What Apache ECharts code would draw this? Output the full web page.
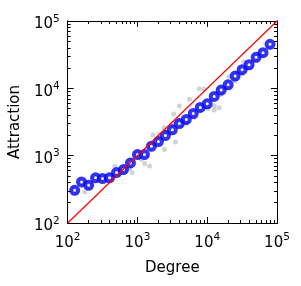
<!DOCTYPE html>
<html>
<head>
<meta charset="utf-8">
<script src="https://cdn.jsdelivr.net/npm/echarts@6/dist/echarts.min.js"></script>
<style>
html,body{margin:0;padding:0;background:#fff;}
#c{width:301px;height:286px;}
</style>
</head>
<body>
<div id="c"></div>
<script>
// Binned averages (blue circles)
const blueX = [126,158,200,251,316,398,501,631,794,1000,1259,1585,1995,2512,3162,3981,5012,6310,7943,10000,12589,15849,19953,25119,31623,39811,50119,63096,79433];
const blueY = [306,407,363,468,457,468,561,621,781,1040,1040,1380,1620,1990,2420,3000,3450,4230,5200,5890,7590,9420,11300,15200,18900,22400,28900,33800,45000];

// Individual points (gray)
const grayX = [120,135,128,176,150,165,195,210,245,260,305,330,390,410,420,475,520,490,610,650,660,776,839,820,980,1020,1050,1138,1268,1496,1200,1300,1670,1550,1620,1950,2050,2000,2440,2400,2550,3100,3310,3500,3200,3900,3980,4100,3800,5550,5000,4900,5200,6100,6500,6300,7700,9000,8000,7600,9800,10300,12600,12600,14800,12000,16000,15500,20500,19500,20000,25000,24500,26000,33500,31000,32000,40000,38000,41000,50000,51000,63000,65000,79000,78000];
const grayY = [330,290,300,289,420,380,340,370,480,450,450,470,480,450,500,697,540,580,640,590,600,646,562,800,1100,980,1000,877,766,705,1100,1000,2020,1300,1450,1800,2100,1700,1236,2600,2300,2800,4140,1600,3000,3200,5450,2800,3300,6860,3000,3300,3200,4000,3700,4500,9900,9800,4800,4600,5500,5000,4750,5450,5140,7000,8500,8000,14900,10500,11000,13000,14000,16000,24800,17000,16500,21000,20000,24000,26000,28000,32000,34000,43000,41000];

// Reference line y = x
const diagX = [100, 100000];
const diagY = [100, 100000];

// Tick values
const majorTicks = [100, 1000, 10000, 100000];
const minorTicks = [200,300,400,500,600,700,800,900,2000,3000,4000,5000,6000,7000,8000,9000,20000,30000,40000,50000,60000,70000,80000,90000];

const FONT = 'DejaVu Sans';
const richX = {
  b: {fontSize: 15, fontFamily: FONT, color: '#000', lineHeight: 22},
  s: {fontSize: 10.5, fontFamily: FONT, color: '#000', lineHeight: 10, verticalAlign: 'top'}
};
function fmt(v) { return '{b|10}{s|' + Math.round(Math.log10(v)) + '}'; }

function axisBase(pos, ticks, len, showLabel, isX) {
  const a = {
    type: 'log', logBase: 10, min: 100, max: 100000, position: pos,
    splitLine: {show: false},
    axisLine: {show: true, lineStyle: {color: '#000', width: 1}},
    axisTick: {show: true, inside: true, length: len, customValues: ticks, lineStyle: {color: '#000', width: 1}},
    axisLabel: {show: false},
    minorTick: {show: false}
  };
  if (showLabel) {
    a.axisLabel = {
      show: true, customValues: majorTicks, formatter: fmt, rich: richX,
      margin: isX ? 9 : 8, padding: isX ? 0 : [7, 0, 0, 0]
    };
  }
  return a;
}

const xAxes = [
  Object.assign(axisBase('bottom', majorTicks, 6, true, true), {
    name: 'Degree', nameLocation: 'middle', nameGap: 38,
    nameTextStyle: {fontSize: 15, fontFamily: FONT, color: '#000'}
  }),
  axisBase('bottom', minorTicks, 3, false, true),
  axisBase('top', majorTicks, 6, false, true),
  axisBase('top', minorTicks, 3, false, true)
];
const yAxes = [
  Object.assign(axisBase('left', majorTicks, 6, true, false), {
    name: 'Attraction', nameLocation: 'middle', nameGap: 40,
    nameTextStyle: {fontSize: 15, fontFamily: FONT, color: '#000'}
  }),
  axisBase('left', minorTicks, 3, false, false),
  axisBase('right', majorTicks, 6, false, false),
  axisBase('right', minorTicks, 3, false, false)
];

const chart = echarts.init(document.getElementById('c'), null, {renderer: 'canvas'});
chart.setOption({
  animation: false,
  backgroundColor: '#fff',
  grid: {left: 66, right: 24, top: 21, bottom: 63, containLabel: false},
  xAxis: xAxes,
  yAxis: yAxes,
  series: [
    {
      type: 'scatter', symbol: 'circle', symbolSize: 5,
      itemStyle: {color: '#c8c8c8'},
      data: grayX.map((x, i) => [x, grayY[i]]),
      silent: true
    },
    {
      type: 'line', showSymbol: false, symbol: 'none',
      lineStyle: {color: '#ff0000', width: 1.2},
      data: diagX.map((x, i) => [x, diagY[i]]),
      silent: true
    },
    {
      type: 'scatter', symbol: 'circle', symbolSize: 7,
      itemStyle: {color: '#ffffff', borderColor: '#0000f0', borderWidth: 4},
      data: blueX.map((x, i) => [x, blueY[i]]),
      silent: true
    }
  ]
});
</script>
</body>
</html>
